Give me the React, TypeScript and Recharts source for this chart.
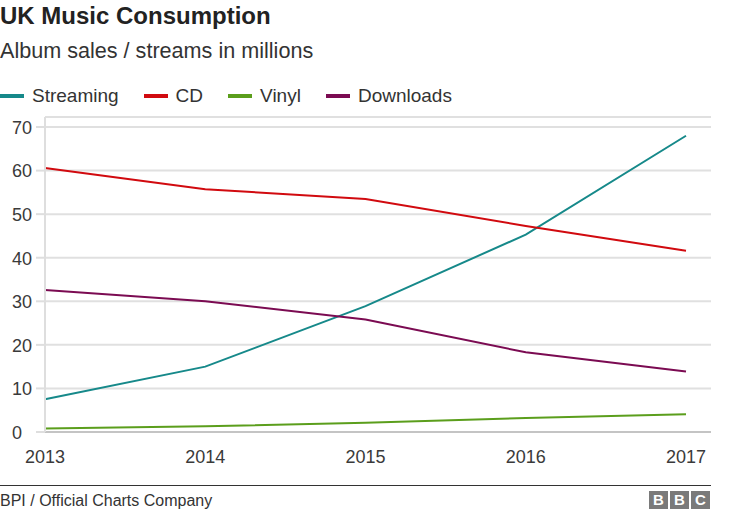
import { CartesianGrid, Line, LineChart, XAxis, YAxis } from "recharts";

const years = ["2013", "2014", "2015", "2016", "2017"];
const streaming = [7.5, 15.0, 28.9, 45.3, 68.0];
const cd = [60.6, 55.7, 53.5, 47.3, 41.6];
const vinyl = [0.8, 1.3, 2.1, 3.2, 4.1];
const downloads = [32.6, 30.0, 25.8, 18.3, 13.9];
const yTicks = [0, 10, 20, 30, 40, 50, 60, 70];

const series = [
  { key: "streaming", name: "Streaming", color: "#16898a", values: streaming },
  { key: "cd", name: "CD", color: "#d10a0f", values: cd },
  { key: "vinyl", name: "Vinyl", color: "#5b9e1c", values: vinyl },
  { key: "downloads", name: "Downloads", color: "#7b0b52", values: downloads },
];

const chartData = years.map((year, i) => {
  const row: Record<string, string | number> = { year };
  series.forEach((s) => {
    row[s.key] = s.values[i];
  });
  return row;
});

const FONT = '"Liberation Sans", Arial, Helvetica, sans-serif';
const TEXT = "#3a3a3a";

function YTick(props: any) {
  const { y, payload } = props;
  return (
    <text x={12} y={y} dy="0.38em" textAnchor="start" fontSize={18} fill={TEXT} fontFamily={FONT}>
      {payload.value}
    </text>
  );
}

function XTick(props: any) {
  const { x, y, payload } = props;
  return (
    <text x={x} y={y} dy={23} textAnchor="middle" fontSize={18} fill={TEXT} fontFamily={FONT}>
      {payload.value}
    </text>
  );
}

export default function App() {
  return (
    <div
      style={{
        position: "absolute",
        left: 0,
        top: 0,
        width: 750,
        height: 511,
        background: "#fff",
        fontFamily: FONT,
        color: TEXT,
        overflow: "hidden",
      }}
    >
      <div
        style={{
          position: "absolute",
          left: 0,
          top: 4,
          fontSize: 24,
          lineHeight: "24px",
          fontWeight: "bold",
          color: "#222",
          whiteSpace: "nowrap",
        }}
      >
        UK Music Consumption
      </div>
      <div
        style={{
          position: "absolute",
          left: 0,
          top: 40,
          fontSize: 21.6,
          lineHeight: "21.6px",
          color: "#333",
          whiteSpace: "nowrap",
        }}
      >
        Album sales / streams in millions
      </div>
      <div
        style={{
          position: "absolute",
          left: 0,
          top: 86,
          display: "flex",
          alignItems: "center",
          gap: 25,
          fontSize: 19,
          lineHeight: "19px",
          color: "#333",
        }}
      >
        {series.map((s) => (
          <div key={s.key} style={{ display: "flex", alignItems: "center", gap: 8 }}>
            <span style={{ display: "inline-block", width: 24, height: 4, background: s.color }} />
            <span>{s.name}</span>
          </div>
        ))}
      </div>

      <div style={{ position: "absolute", left: 0, top: 110 }}>
        <LineChart
          width={750}
          height={360}
          data={chartData}
          margin={{ top: 7, right: 39, bottom: 8, left: 0 }}
        >
          <CartesianGrid vertical={false} stroke="#e0e0e0" strokeWidth={2} />
          <XAxis
            dataKey="year"
            padding={{ left: 0, right: 25 }}
            axisLine={{ stroke: "#c4c4c4", strokeWidth: 2 }}
            tickLine={false}
            height={30}
            tick={<XTick />}
            interval={0}
          />
          <YAxis
            domain={[0, 72.3]}
            ticks={yTicks}
            width={45}
            axisLine={{ stroke: "#dedede", strokeWidth: 2 }}
            tickLine={{ stroke: "#dedede", strokeWidth: 2 }}
            tickSize={9}
            tick={<YTick />}
            interval={0}
          />
          {series.map((s) => (
            <Line
              key={s.key}
              type="linear"
              dataKey={s.key}
              name={s.name}
              stroke={s.color}
              strokeWidth={2}
              dot={false}
              activeDot={false}
              isAnimationActive={false}
            />
          ))}
        </LineChart>
      </div>

      <div
        style={{
          position: "absolute",
          left: 0,
          top: 485,
          width: 711,
          borderTop: "1.5px solid #333",
        }}
      />
      <div
        style={{
          position: "absolute",
          left: 0,
          top: 493,
          fontSize: 16,
          lineHeight: "16px",
          color: "#333",
          whiteSpace: "nowrap",
        }}
      >
        BPI / Official Charts Company
      </div>
      <div style={{ position: "absolute", left: 649, top: 491, display: "flex", gap: 2 }}>
        {["B", "B", "C"].map((ch, i) => (
          <div
            key={i}
            style={{
              width: 19,
              height: 18,
              background: "#7a7a7a",
              color: "#fff",
              fontWeight: "bold",
              fontSize: 15,
              lineHeight: "18px",
              textAlign: "center",
            }}
          >
            {ch}
          </div>
        ))}
      </div>
    </div>
  );
}
